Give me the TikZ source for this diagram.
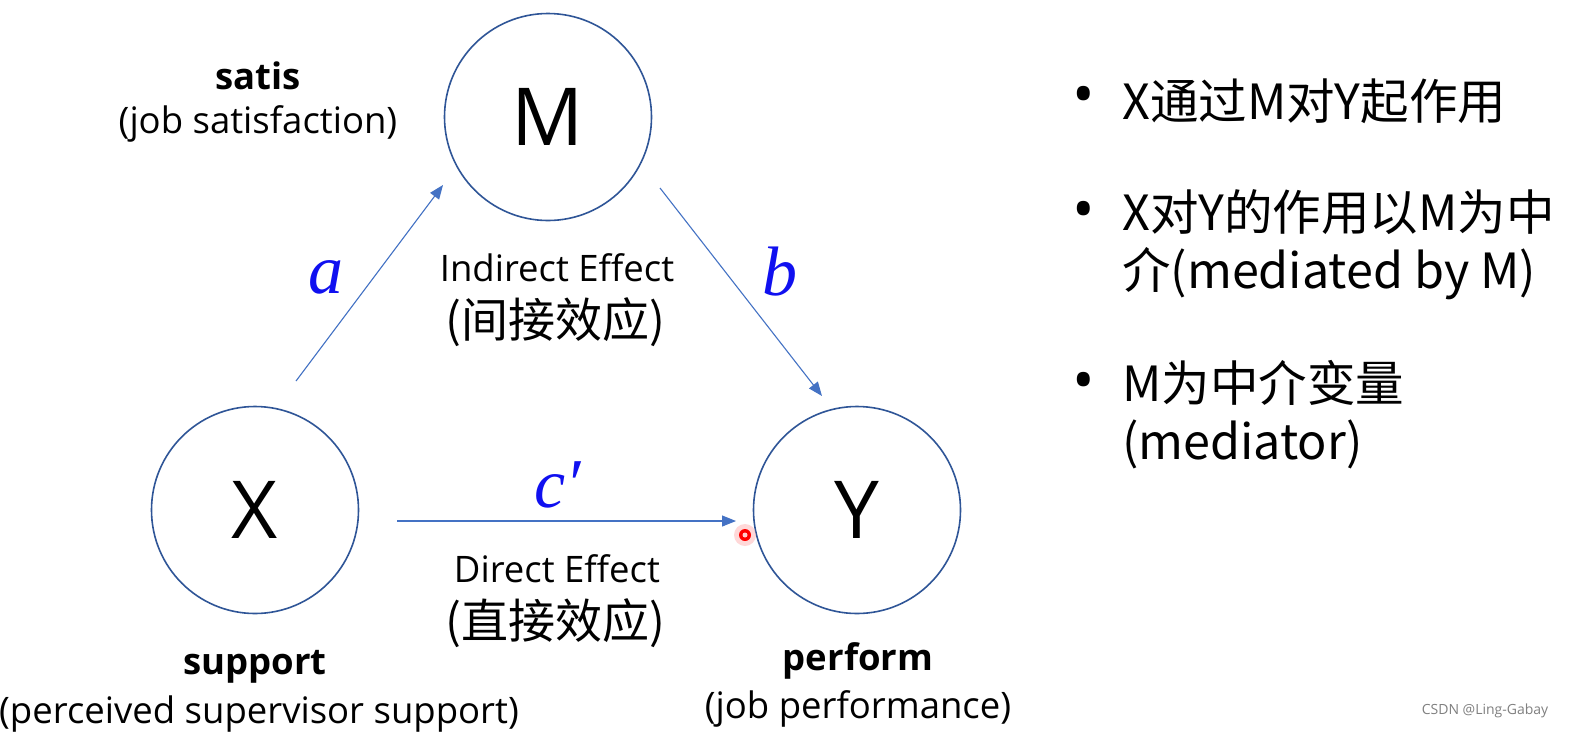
\documentclass[tikz,border=0pt]{standalone}
\usepackage{fontspec}
\setmainfont{Open Sans}
\newfontfamily\cjk{Noto Sans CJK SC}
\newfontfamily\coeffont{Liberation Serif}
\usetikzlibrary{arrows.meta}
\definecolor{circblue}{HTML}{2F5597}
\definecolor{arrblue}{HTML}{4472C4}
\definecolor{letblue}{HTML}{1010F0}
\begin{document}
\begin{tikzpicture}[x=1pt,y=-1pt,
  varcirc/.style={circle,draw=circblue,line width=1.6pt,minimum size=207pt,inner sep=0pt,font=\fontsize{80}{80}\selectfont},
  arr/.style={draw=arrblue,line width=1.1pt,-{Triangle[length=14pt,width=11pt]}},
  lbl/.style={inner sep=0pt,font=\fontsize{36.5}{40}\selectfont},
  blbl/.style={inner sep=0pt,font=\bfseries\fontsize{36.5}{40}\selectfont},
  zh/.style={inner sep=0pt,font=\cjk\fontsize{47}{48}\selectfont},
  coef/.style={inner sep=0pt,text=letblue,font=\coeffont\itshape\fontsize{70}{70}\selectfont},
  bullet/.style={inner sep=0pt,anchor=west,font=\cjk\fontsize{48.5}{58}\selectfont,align=left},
  dot/.style={inner sep=0pt,anchor=center,font=\fontsize{60}{60}\selectfont}]
\useasboundingbox[fill=white] (0,0) rectangle (1575,732);
% circles
\node[varcirc] (M) at (548,117) {M};
\node[varcirc] (X) at (255,510) {X};
\node[varcirc] (Y) at (857,510) {Y};
% arrow endpoints
\coordinate (a1) at (296,381);
\coordinate (a2) at (443,185);
\coordinate (b1) at (660,188);
\coordinate (b2) at (822,396);
\coordinate (c1) at (397,521);
\coordinate (c2) at (736,521);
\draw[arr] (a1) -- (a2);
\draw[arr] (b1) -- (b2);
\draw[arr] (c1) -- (c2);
% coefficient labels
\node[coef] (la) at (326,277) {a};
\node[coef] (lb) at (780,272) {b};
\node[coef] (lc) at (558,485) {c′};
% effect labels
\node[lbl] (ind) at (557,268) {Indirect Effect};
\node[zh] (indz) at (555,322) {(间接效应)};
\node[lbl] (dir) at (557,569) {Direct Effect};
\node[zh] (dirz) at (555,623) {(直接效应)};
% variable labels
\node[blbl] (msat) at (258,76) {satis};
\node[lbl] (msatl) at (258,124) {(job satisfaction)};
\node[blbl] (xsup) at (255,667) {support};
\node[lbl] (xsupl) at (259,714) {(perceived supervisor support)};
\node[blbl] (yper) at (858,661) {perform};
\node[lbl] (yperl) at (858,709) {(job performance)};
% bullets
\node[dot] (d1) at (1084,101) {•};
\node[bullet] (t1) at (1122,101) {X通过M对Y起作用};
\node[dot] (d2) at (1084,216) {•};
\node[bullet,anchor=north west] (t2) at (1122,189) {X对Y的作用以M为中\\介(mediated by M)};
\node[dot] (d3) at (1084,387) {•};
\node[bullet,anchor=north west] (t3) at (1122,360) {M为中介变量\\(mediator)};
% watermark
\node[inner sep=0pt,text=black!50,font=\fontsize{14}{14}\selectfont] (wm) at (1485,711) {CSDN @Ling-Gabay};
% pointer dot
\fill[red!30,opacity=0.5] (745,535) circle (11);
\fill[red] (745,535) circle (6);
\fill[red!20] (745,535) circle (2.5);
\end{tikzpicture}
\end{document}
